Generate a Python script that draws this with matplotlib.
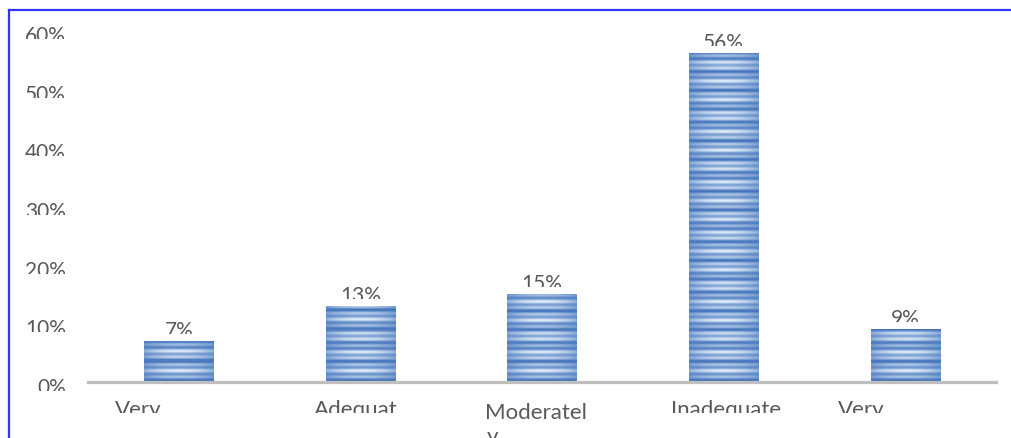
import numpy as np
import matplotlib
matplotlib.use("Agg")
import matplotlib.pyplot as plt
from matplotlib.lines import Line2D
from matplotlib.transforms import Bbox, TransformedBbox, ScaledTranslation, blended_transform_factory

plt.rcParams['font.family'] = ['Lato', 'DejaVu Sans']

# chart data
categories = ["Very", "Adequat", "Moderatel\ny", "Inadequate", "Very"]
shares = [7, 13, 15, 56, 9]
yticks = [0, 10, 20, 30, 40, 50, 60]

# label nudges in pixels (category text sits left of the bar for the "Very" ones)
label_dx = [-41, -5, -6, 2, -44]

W, H = 1011, 439
fig = plt.figure(figsize=(W / 100, H / 100), dpi=100)
ax = fig.add_axes([88 / W, 56 / H, 908 / W, 352 / H])

TXT = '#595959'
FS = 15
FS_CAT = 16
px = lambda p: p / 100.0  # pixels -> inches at 100 dpi


def clip_below(t, trans, x0, x1, y, dy_px):
    """clip text t so nothing below y (+dy_px pixels) is drawn"""
    off = trans + ScaledTranslation(0, px(dy_px), fig.dpi_scale_trans)
    t.set_clip_box(TransformedBbox(Bbox.from_extents(x0, y, x1, 1e4), off))
    t.set_clip_on(True)


# striped fill texture, one texel per pixel of the plot area
rows, cols = 352, 70
yy = np.arange(rows)[:, None]
s = 0.5 + 0.3 * np.cos(2 * np.pi * yy / 6.3) + 0.22 * np.cos(2 * np.pi * yy / 17.0)
s = np.clip(s, 0, 1)
u = np.linspace(-1, 1, cols)[None, :]
s = s * (1 - 0.5 * u ** 2)
dark = np.array([0.27, 0.46, 0.74])
light = np.array([0.88, 0.93, 0.98])
tex = dark + (light - dark) * s[..., None]

xpos = np.arange(len(categories))
bw = 0.38
bars = ax.bar(xpos, shares, width=bw, color='#4f81bd', zorder=2)
for b in bars:
    x0 = b.get_x()
    im = ax.imshow(tex, extent=(x0, x0 + bw, 0, 60), aspect='auto',
                   interpolation='nearest', zorder=3)
    im.set_clip_path(b)

ax.set_xlim(-0.5, len(categories) - 0.5)
ax.set_ylim(0, 60)
ax.axis('off')
ax.add_line(Line2D([0, 1], [0, 0], transform=ax.transAxes, color='#bfbfbf',
                   lw=2.3, zorder=4, clip_on=False))

# value labels above bars, cut off just above the bar top
for i, v in enumerate(shares):
    t = fig.text(i, v, f"{v}%", transform=ax.transData + ScaledTranslation(0, px(5), fig.dpi_scale_trans),
                 ha='center', va='baseline', fontsize=FS, color=TXT)
    clip_below(t, ax.transData, i - 0.5, i + 0.5, v, 7)

# y tick labels
ytr = blended_transform_factory(fig.transFigure, ax.transData)
for v in yticks:
    t = fig.text(66 / W, v, f"{v}%", transform=ytr + ScaledTranslation(0, px(-11), fig.dpi_scale_trans),
                 ha='right', va='baseline', fontsize=FS, color=TXT)
    clip_below(t, ytr, 0, 1, v, -9)

# category labels
xtr = blended_transform_factory(ax.transData, fig.transFigure)
for i, lab in enumerate(categories):
    tr = xtr + ScaledTranslation(px(label_dx[i]), 0, fig.dpi_scale_trans)
    if '\n' in lab:
        first, second = lab.split('\n')
        fig.text(i, 1 - 419 / H, first, transform=tr, ha='center', va='baseline',
                 fontsize=FS_CAT, color=TXT)
        fig.text(i - 0.27, 1 - 443 / H, second, transform=tr, ha='left', va='baseline',
                 fontsize=FS_CAT, color=TXT)
    else:
        t = fig.text(i, 1 - 416 / H, lab, transform=tr, ha='center', va='baseline',
                     fontsize=FS_CAT, color=TXT)
        clip_below(t, fig.transFigure, 0, 1, 1 - 414 / H, 0)

# blue frame on the left and top
fig.add_artist(Line2D([9 / W, 9 / W], [0, 1 - 11 / H], color='#3333fa', lw=1.6))
fig.add_artist(Line2D([9 / W, 1], [1 - 11 / H, 1 - 11 / H], color='#3333fa', lw=1.6))

fig.savefig('out.png', dpi=100, facecolor='white')
